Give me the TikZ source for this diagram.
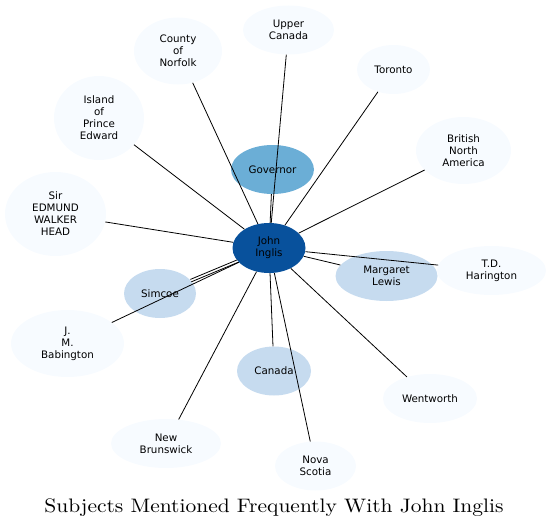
\documentclass[tikz,border=0pt]{standalone}
\usepackage{fontspec}
\usepackage{graphicx}
\usepackage{xcolor}
\usetikzlibrary{shapes.geometric}
\newfontfamily\nodefont{DejaVu Sans}
\definecolor{hub}{HTML}{08519C}
\definecolor{strong}{HTML}{6BAED6}
\definecolor{mid}{HTML}{C6DBEF}
\definecolor{faint}{HTML}{F7FBFF}

\begin{document}
\begin{tikzpicture}[
    x=1pt, y=-1pt,
    subject/.style={ellipse, draw=none, fill=faint, inner sep=0pt, align=center,
                    font=\nodefont\fontsize{10.3}{12}\selectfont, text=black},
    hubnode/.style={subject, fill=hub},
    near/.style={subject, fill=strong},
    often/.style={subject, fill=mid},
    link/.style={draw=black, line width=0.8pt}
  ]
    \useasboundingbox (0,0) rectangle (551,527);

    \node[hubnode, minimum width=73pt, minimum height=50pt] (inglis) at (269,248) {John\\Inglis};
    \node[near, minimum width=83pt, minimum height=49pt] (governor) at (272.5,169.5) {Governor};
    \node[often, minimum width=102pt, minimum height=50pt] (lewis) at (386.5,276) {Margaret\\Lewis};
    \node[often, minimum width=72pt, minimum height=49pt] (simcoe) at (160,293.5) {Simcoe};
    \node[often, minimum width=74pt, minimum height=49pt] (canada) at (274,371) {Canada};

    \node[subject, minimum width=91pt, minimum height=49pt] (upper) at (288.5,30) {Upper\\Canada};
    \node[subject, minimum width=88pt, minimum height=67pt] (norfolk) at (178,51) {County\\of\\Norfolk};
    \node[subject, minimum width=73pt, minimum height=49pt] (toronto) at (393.5,69.5) {Toronto};
    \node[subject, minimum width=90pt, minimum height=84pt] (prince) at (99,118) {Island\\of\\Prince\\Edward};
    \node[subject, minimum width=95pt, minimum height=67pt] (bna) at (463.5,150.5) {British\\North\\America};
    \node[subject, minimum width=101pt, minimum height=84pt] (head) at (55.5,214) {Sir\\EDMUND\\WALKER\\HEAD};
    \node[subject, minimum width=109pt, minimum height=49pt] (harington) at (491.5,270.5) {T.D.\\Harington};
    \node[subject, minimum width=113pt, minimum height=67pt] (babington) at (67.5,343.5) {J.\\M.\\Babington};
    \node[subject, minimum width=94pt, minimum height=49pt] (wentworth) at (430,398.5) {Wentworth};
    \node[subject, minimum width=110pt, minimum height=49pt] (brunswick) at (166,443.5) {New\\Brunswick};
    \node[subject, minimum width=81pt, minimum height=49pt] (nova) at (315.5,466) {Nova\\Scotia};

    % edges from the hub
    \foreach \other in {governor, lewis, canada, upper, norfolk, toronto, prince,
                        bna, head, harington, babington, wentworth, brunswick, nova}
      \draw[link] (inglis) -- (\other);
    % simcoe is linked twice
    \draw[link, transform canvas={shift={(0.5pt,-1.2pt)}}] (inglis) -- (simcoe);
    \draw[link, transform canvas={shift={(-0.5pt,1.2pt)}}] (inglis) -- (simcoe);

    \node[anchor=base, inner sep=0pt, font=\fontsize{10}{12}\selectfont] (title) at (274,512)
      {\scalebox{2.15}[1.95]{Subjects Mentioned Frequently With John Inglis}};
  \end{tikzpicture}
\end{document}
